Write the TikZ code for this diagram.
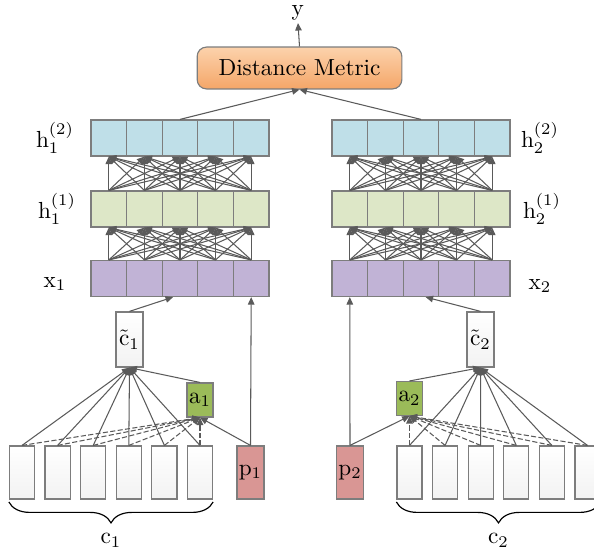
\documentclass[tikz,border=0pt]{standalone}
\usetikzlibrary{arrows.meta,decorations.pathreplacing}
\definecolor{topblue}{RGB}{191,223,232}
\definecolor{midgreen}{RGB}{221,231,199}
\definecolor{inpurple}{RGB}{193,179,214}
\definecolor{attgreen}{RGB}{155,187,89}
\definecolor{posred}{RGB}{217,150,148}
\definecolor{dmtop}{RGB}{252,210,172}
\definecolor{dmbot}{RGB}{244,166,104}
\definecolor{boxgray}{RGB}{125,125,125}
\definecolor{wiregray}{RGB}{90,90,90}
\begin{document}
\begin{tikzpicture}[x=0.43pt,y=-0.43pt,
    cell/.style={draw=boxgray, line width=0.5pt, minimum width=15.3pt, minimum height=15.5pt, inner sep=0pt},
    ctx/.style={draw=boxgray, line width=0.5pt, top color=white, bottom color=gray!10, minimum width=10.8pt, minimum height=22.8pt, inner sep=0pt},
    wire/.style={draw=wiregray, line width=0.45pt, -{Triangle[length=3.2pt,width=2.8pt]}},
    dashwire/.style={wire, dash pattern=on 2.2pt off 1pt}]
\useasboundingbox (0,0) rectangle (594,553);
\clip (0,0) rectangle (594,553);

% the two stacks of layers
\foreach \s/\xo in {1/91,2/332} {
    \foreach \i in {1,...,5} {
        \pgfmathsetmacro\cx{\xo+35.6*(\i-0.5)}
        \node[cell, fill=inpurple] (x\s-\i) at (\cx,278.5) {};
        \node[cell, fill=midgreen] (hA\s-\i) at (\cx,209) {};
        \node[cell, fill=topblue] (hB\s-\i) at (\cx,138) {};
    }
    \foreach \i in {1,...,5} {
        \foreach \j in {1,...,5} {
            \draw[wire] (x\s-\i.north) -- (hA\s-\j.south);
            \draw[wire] (hA\s-\i.north) -- (hB\s-\j.south);
        }
    }
}

\node (lhB1) at (55,138) {$\mathrm{h}_1^{(2)}$};
\node (lhA1) at (57,209) {$\mathrm{h}_1^{(1)}$};
\node (lx1) at (55,284) {$\mathrm{x}_1$};
\node (lhB2) at (540,138) {$\mathrm{h}_2^{(2)}$};
\node (lhA2) at (542,209) {$\mathrm{h}_2^{(1)}$};
\node (lx2) at (540,286) {$\mathrm{x}_2$};

% top
\node[draw=boxgray, line width=0.5pt, rounded corners=4pt, top color=dmtop, bottom color=dmbot,
      minimum width=88pt, minimum height=18pt, inner sep=0pt] (dist) at (299.5,68) {Distance Metric};
\node[inner sep=1pt] (y) at (298,13) {$\mathrm{y}$};
\draw[wire] (dist.north) -- (y.south);
\draw[wire] (hB1-3.north) -- (dist.south);
\draw[wire] (hB2-3.north) -- (dist.south);

% left input side
\node[ctx, minimum width=11.6pt, minimum height=23.7pt] (ct1) at (129.5,339.5) {$\tilde{\mathrm{c}}_1$};
\node[draw=boxgray, line width=0.5pt, fill=attgreen, minimum width=11.2pt, minimum height=14.6pt, inner sep=0pt] (a1) at (200,400) {$\mathrm{a}_1$};
\node[draw=boxgray, line width=0.5pt, fill=posred, minimum width=11.6pt, minimum height=22.8pt, inner sep=0pt] (p1) at (250.5,472.5) {$\mathrm{p}_1$};
\foreach \k in {1,...,6} {
    \pgfmathsetmacro\cx{22+35.6*(\k-1)}
    \node[ctx] (c1-\k) at (\cx,472.5) {};
    \draw[wire] (c1-\k.north) -- (ct1.south);
    \draw[dashwire] (c1-\k.north) -- (a1.south);
}
\draw[wire] (p1.north) -- (a1.south);
\draw[wire] (p1.north) -- (x1-5.south);
\draw[wire] (a1.north) -- (ct1.south);
\draw[wire] (ct1.north) -- ([xshift=-3pt]x1-3.south);
\draw[decorate, decoration={brace, mirror, amplitude=9pt}, line width=0.5pt]
    ([yshift=-1pt]c1-1.south west) -- ([yshift=-1pt]c1-6.south east)
    node[midway, below=10pt] (lc1) {$\mathrm{c}_1$};

% right input side
\node[ctx, minimum width=11.6pt, minimum height=23.7pt] (ct2) at (480.5,339.5) {$\tilde{\mathrm{c}}_2$};
\node[draw=boxgray, line width=0.5pt, fill=attgreen, minimum width=11.2pt, minimum height=14.6pt, inner sep=0pt] (a2) at (409.5,398.5) {$\mathrm{a}_2$};
\node[draw=boxgray, line width=0.5pt, fill=posred, minimum width=11.6pt, minimum height=22.8pt, inner sep=0pt] (p2) at (350,472.5) {$\mathrm{p}_2$};
\foreach \k in {1,...,6} {
    \pgfmathsetmacro\cx{409.5+35.6*(\k-1)}
    \node[ctx] (c2-\k) at (\cx,472.5) {};
    \draw[wire] (c2-\k.north) -- (ct2.south);
    \draw[dashwire] (c2-\k.north) -- (a2.south);
}
\draw[wire] (p2.north) -- (a2.south);
\draw[wire] (p2.north) -- (x2-1.south);
\draw[wire] (a2.north) -- (ct2.south);
\draw[wire] (ct2.north) -- ([xshift=2pt]x2-3.south);
\draw[decorate, decoration={brace, mirror, amplitude=9pt}, line width=0.5pt]
    ([yshift=-1pt]c2-1.south west) -- ([yshift=-1pt]c2-6.south east)
    node[midway, below=10pt] (lc2) {$\mathrm{c}_2$};
\end{tikzpicture}
\end{document}
